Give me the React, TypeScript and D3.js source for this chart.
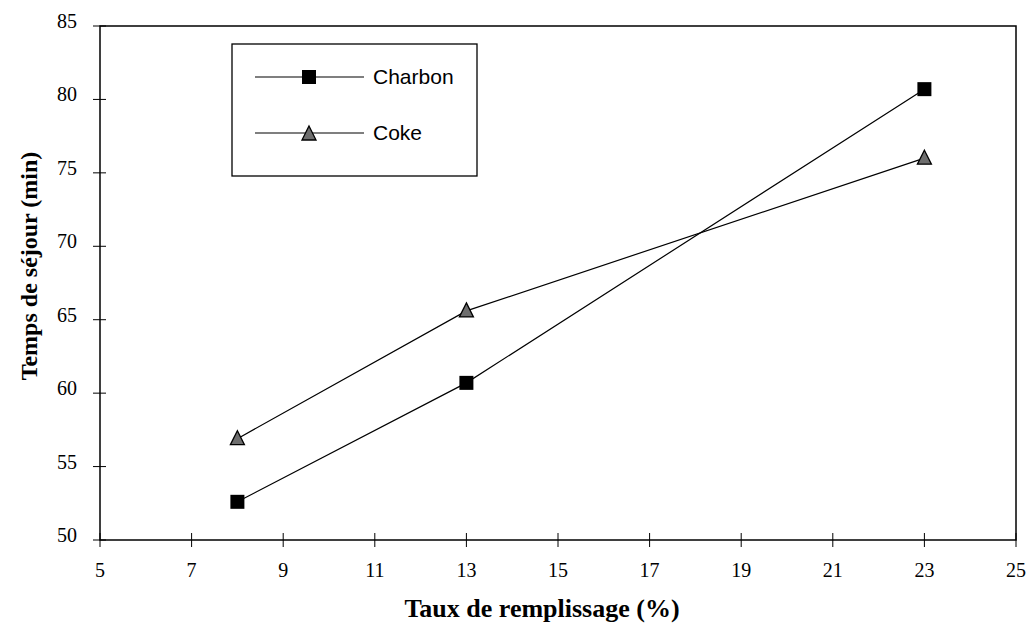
import React from "react";
import * as d3 from "d3";

const xValues = [8, 13, 23];
const charbon = [52.6, 60.7, 80.7];
const coke = [56.9, 65.6, 76.0];
const xTicks = [5, 7, 9, 11, 13, 15, 17, 19, 21, 23, 25];
const yTicks = [50, 55, 60, 65, 70, 75, 80, 85];
const seriesNames = ["Charbon", "Coke"];

const W = 1031;
const H = 626;
const L = 100, R = 1016, T = 26, B = 540;
const SERIF = "'Liberation Serif', 'Times New Roman', Times, serif";
const SANS = "'Liberation Sans', Arial, Helvetica, sans-serif";

export default function App() {
  const x = d3.scaleLinear().domain([5, 25]).range([L, R]);
  const y = d3.scaleLinear().domain([50, 85]).range([B, T]);
  const line = d3.line<[number, number]>().x(d => x(d[0])).y(d => y(d[1]));
  const cData = xValues.map((v, i) => [v, charbon[i]] as [number, number]);
  const kData = xValues.map((v, i) => [v, coke[i]] as [number, number]);

  const square = (cx: number, cy: number, key: string) => (
    <rect key={key} x={cx - 7} y={cy - 7} width={14} height={14} fill="#000" />
  );
  const tri = (cx: number, cy: number, key: string) => (
    <path key={key} d={`M${cx},${cy - 8} L${cx + 7},${cy + 6} L${cx - 7},${cy + 6} Z`} fill="#6e6e6e" stroke="#000" strokeWidth={1.3} />
  );

  return (
    <svg width={W} height={H} style={{ position: "absolute", left: 0, top: 0 }}>
      <rect width={W} height={H} fill="#fff" />
      <rect x={L} y={T} width={R - L} height={B - T} fill="none" stroke="#000" strokeWidth={1.5} />
      {yTicks.map(t => (
        <g key={"y" + t}>
          <line x1={L - 7} x2={L + 6} y1={y(t)} y2={y(t)} stroke="#000" strokeWidth={1} />
          <text x={77} y={y(t) + 2} textAnchor="end" fontFamily={SERIF} fontSize={20}>{t}</text>
        </g>
      ))}
      {xTicks.map(t => (
        <g key={"x" + t}>
          <line x1={x(t)} x2={x(t)} y1={B - 7} y2={B + 7} stroke="#000" strokeWidth={1} />
          <text x={x(t)} y={577} textAnchor="middle" fontFamily={SERIF} fontSize={20}>{t}</text>
        </g>
      ))}
      <path d={line(cData) || ""} fill="none" stroke="#000" strokeWidth={1.2} />
      <path d={line(kData) || ""} fill="none" stroke="#000" strokeWidth={1.2} />
      {cData.map((d, i) => square(x(d[0]), y(d[1]), "c" + i))}
      {kData.map((d, i) => tri(x(d[0]), y(d[1]), "k" + i))}

      <rect x={232} y={44} width={245} height={132} fill="#fff" stroke="#000" strokeWidth={1.3} />
      <line x1={255} x2={364} y1={77} y2={77} stroke="#000" strokeWidth={1.2} />
      {square(309, 77, "lc")}
      <text x={373} y={84} fontFamily={SANS} fontSize={21}>{seriesNames[0]}</text>
      <line x1={255} x2={364} y1={133} y2={133} stroke="#000" strokeWidth={1.2} />
      {tri(309, 134, "lk")}
      <text x={373} y={140} fontFamily={SANS} fontSize={21}>{seriesNames[1]}</text>

      <text x={542} y={617} textAnchor="middle" fontFamily={SERIF} fontSize={26} fontWeight="bold">Taux de remplissage (%)</text>
      <text transform={`translate(37,266) rotate(-90)`} textAnchor="middle" fontFamily={SERIF} fontSize={24} fontWeight="bold">Temps de séjour (min)</text>
    </svg>
  );
}
